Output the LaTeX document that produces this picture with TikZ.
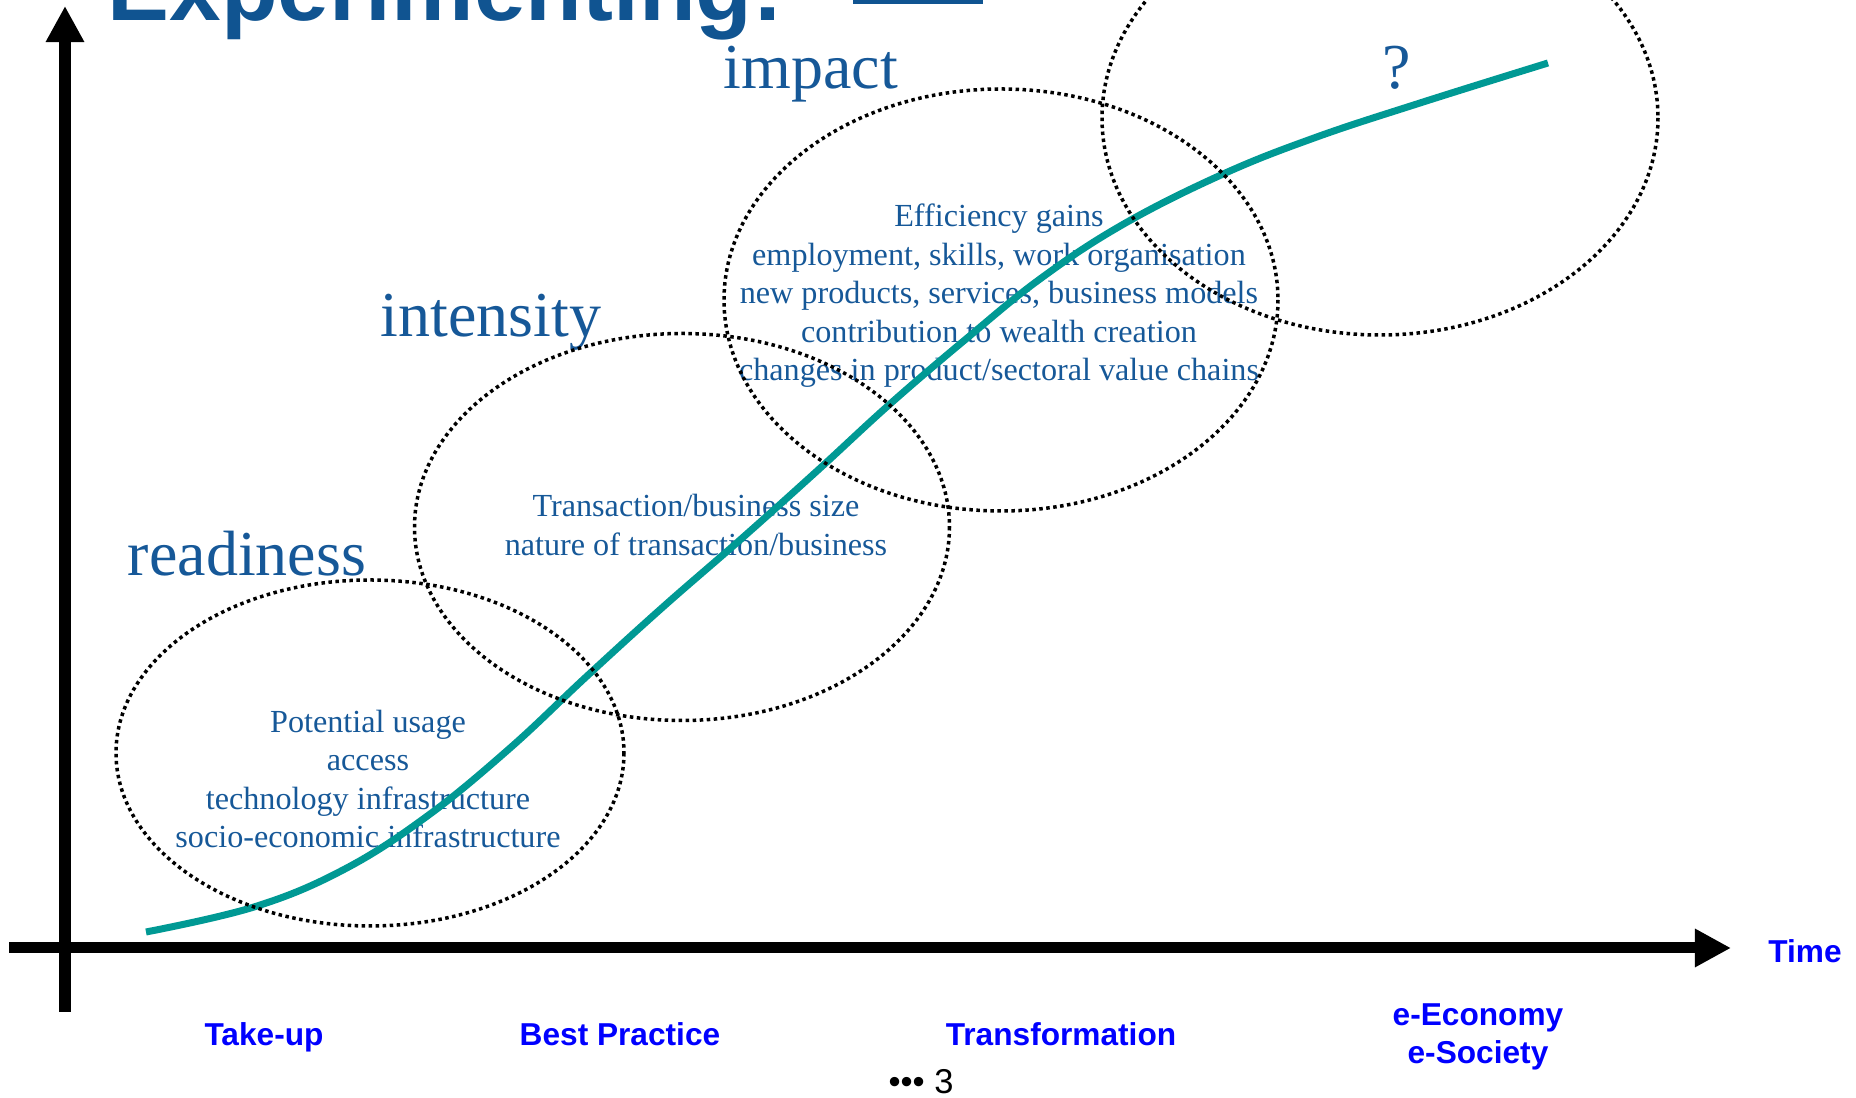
\documentclass[tikz,border=0pt]{standalone}
\usepackage{fontspec}
\setmainfont{Liberation Serif}
\setsansfont{Liberation Sans}
\usetikzlibrary{arrows.meta}
\definecolor{tblue}{RGB}{22,88,152}
\definecolor{ttitle}{RGB}{16,84,145}
\definecolor{lblue}{RGB}{0,0,255}
\definecolor{curvec}{RGB}{0,153,148}
\begin{document}
\begin{tikzpicture}[x=0.01cm,y=-0.01cm,
 axis/.style={line width=0.11cm, -{Triangle[length=0.36cm,width=0.36cm]}},
 zone/.style={line width=0.035cm, dash pattern=on 0.035cm off 0.035cm},
 big/.style={font=\fontsize{18.2pt}{22pt}\selectfont, text=tblue, inner sep=0pt, anchor=base},
 small/.style={font=\fontsize{9.15pt}{10.95pt}\selectfont, text=tblue, align=center, inner sep=0pt},
 phase/.style={font=\sffamily\bfseries\fontsize{9pt}{10.8pt}\selectfont, text=lblue, align=center, inner sep=0pt},
 curve/.style={line width=0.07cm, curvec, line cap=butt}]
\useasboundingbox (0,0) rectangle (1856,1098);
\clip (0,0) rectangle (1856,1098);

% title (cut off at top)
\node[anchor=base west, inner sep=0pt, font=\sffamily\bfseries\fontsize{26.4pt}{30pt}\selectfont, text=ttitle] (title) at (107,21) {Experimenting:};
\fill[ttitle] (853,-5) rectangle (983,4);

% axes
\coordinate (yb) at (65,1012);
\coordinate (yt) at (65,6);
\coordinate (xl) at (9,948);
\coordinate (xr) at (1731,948);
\draw[axis] (yb) -- (yt);
\draw[axis] (xl) -- (xr);

% stage words
\node[big] (readiness) at (247,576) {readiness};
\node[big] (intensity) at (491,337) {intensity};
\node[big] (impact) at (811,89) {impact};
\node[big] (q) at (1397,89) {?};

% texts in the zones
\node[small] (t1) at (368,779) {Potential usage\\access\\technology infrastructure\\socio-economic infrastructure};
\node[small] (t2) at (696,525) {Transaction/business size\\nature of transaction/business};
\node[small] (t3) at (999,296) {Efficiency gains\\employment, skills, work organisation\\new products, services, business models\\contribution to wealth creation\\changes in product/sectoral value chains};

% S-curve
\draw[curve] plot[smooth, tension=0.65] coordinates {(146,932) (254,907) (343,870) (426,817) (509,749) (586,677) (663,607) (740,540) (817,471) (890,404) (966,339) (1040,279) (1122,225) (1221,175) (1314,138) (1420,103) (1548,63)};

% zones
\coordinate (e1) at (370,753);
\coordinate (e2) at (682,527);
\coordinate (e3) at (1001,300);
\coordinate (e4) at (1380,118);
\draw[zone] (e1) ellipse [x radius=254, y radius=173];
\draw[zone] (e2) ellipse [x radius=267.5, y radius=193.5];
\draw[zone] (e3) ellipse [x radius=277, y radius=211];
\draw[zone] (e4) ellipse [x radius=278, y radius=217];

% phases
\node[phase] (takeup) at (264,1037) {Take-up};
\node[phase] (best) at (620,1034) {Best Practice};
\node[phase] (transf) at (1061,1034) {Transformation};
\node[phase] (eeco) at (1478,1037) {e-Economy\\e-Society};
\node[phase] (time) at (1805,951) {Time};

% page number
\node[inner sep=0pt, font=\sffamily\fontsize{9.8pt}{12pt}\selectfont] (pg) at (921,1082) {••• 3};
\end{tikzpicture}
\end{document}
